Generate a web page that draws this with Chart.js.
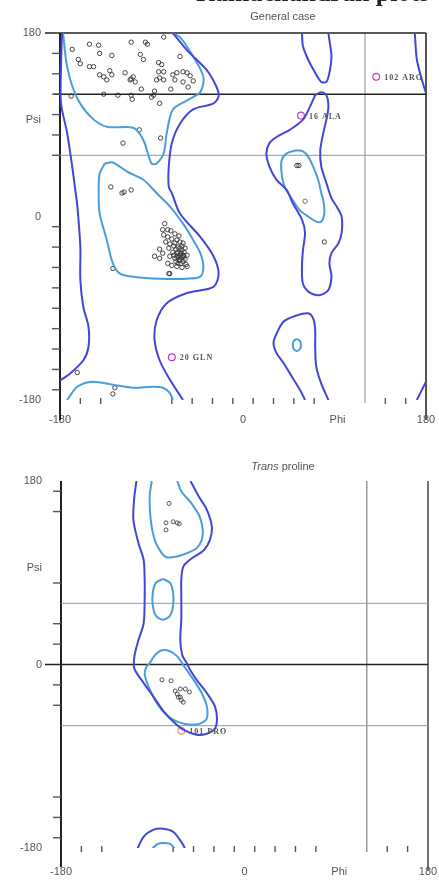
<!DOCTYPE html>
<html>
<head>
<meta charset="utf-8">
<script src="https://cdn.jsdelivr.net/npm/chart.js@4.4.1/dist/chart.umd.min.js"></script>
<style>
  body { margin: 0; background: #fff; }
  canvas { display: block; }
</style>
</head>
<body>
<canvas id="general" width="439" height="440"></canvas>
<canvas id="proline" width="439" height="440"></canvas>
<script>
// ------------------------------------- axes
const axisTicks = [-180, 0, 180];
const phiLabelAt = 93;   // where the "Phi" word sits on the x axis
const psiLabelAt = 95;   // where the "Psi" word sits on the y axis

const generalPhiMarks = [-160, -140, -70, -50, -30, -10, 10, 30, 50, 70, 140, 160];
const generalPsiMarks = [160, 140, 120, 100, 80, 60, -10, -30, -50, -70, -90, -110, -130, -150, -170];
const prolinePhiMarks = [-160, -140, -70, -50, -30, -10, 10, 30, 50, 70, 140, 160];
const prolinePsiMarks = [170, 150, 80, 40, 20, -20, -40, -130, -150, -170];

// ------------------------------------- General case: contours [phi, psi]
const generalOuterBeta = [[-69,180],[-55,163],[-36,144],[-26,127],[-24,118],[-29,111],[-49,105],[-62,91],[-70,72],[-73,49],[-73,29],[-70,23],[-62,3],[-42,-20],[-29,-39],[-24,-56],[-29,-69],[-55,-75],[-75,-85],[-85,-102],[-87,-121],[-82,-141],[-72,-160],[-59,-180]];
const generalOuterLeft = [[-178,180],[-179,147],[-179,111],[-173,82],[-168,49],[-165,26],[-163,11],[-160,-30],[-160,-62],[-157,-89],[-152,-108],[-152,-128],[-157,-141],[-170,-154],[-180,-161]];
const generalWrapTop = [[169,180],[171,154],[176,134],[180,121]];
const generalWrapBottom = [[171,-180],[179,-164],[181,-160]];
const generalRightTop = [[58,180],[59,167],[64,154],[71,141],[77,132],[82,132],[85,141],[87,157],[85,173],[84,180]];
const generalRightMain = [[71,119],[77,122],[82,119],[84,108],[82,95],[79,82],[76,65],[77,49],[82,33],[87,18],[92,10],[97,0],[97,-16],[94,-26],[87,-36],[85,-46],[87,-59],[84,-72],[76,-77],[66,-75],[59,-66],[58,-49],[59,-33],[61,-16],[58,-3],[49,13],[43,26],[33,36],[26,49],[23,62],[26,72],[33,78],[46,85],[59,95],[66,108],[71,119]];
const generalRightBottom = [[61,-180],[56,-170],[48,-157],[40,-144],[33,-134],[30,-124],[33,-115],[40,-103],[53,-97],[64,-95],[69,-100],[71,-111],[71,-128],[72,-147],[77,-164],[84,-180]];

const generalCoreBeta = [[-177,180],[-173,147],[-164,118],[-150,98],[-134,88],[-108,87],[-98,75],[-90,52],[-85,52],[-78,62],[-75,82],[-69,105],[-55,114],[-42,122],[-39,137],[-49,157],[-62,176],[-70,180]];
const generalCoreBetaWrap = [[-173,-180],[-163,-167],[-148,-162],[-128,-165],[-108,-168],[-89,-167],[-79,-168],[-72,-173],[-69,-180]];
const generalCoreAlpha = [[-136,52],[-128,53],[-114,44],[-98,36],[-85,23],[-72,10],[-59,-7],[-49,-23],[-42,-36],[-39,-49],[-42,-59],[-55,-61],[-82,-61],[-108,-59],[-121,-56],[-128,-46],[-134,-23],[-141,3],[-142,23],[-141,42],[-136,52]];
const generalCoreRight = [[53,65],[59,64],[64,59],[69,49],[74,36],[77,23],[79,16],[80,3],[77,-5],[72,-5],[64,0],[56,6],[49,16],[41,29],[38,42],[38,55],[43,62],[53,65]];
const generalCoreSmall = [[53,-120],[56,-122],[57,-126],[56,-130],[53,-132],[50,-130],[49,-126],[50,-122],[53,-120]];

// ------------------------------------- General case: residues
const generalResidues = [
  [-168,164],[-151,169],[-142,168],[-141,160],[-129,158],[-110,171],[-96,171],[-94,169],[-78,176],[-101,159],
  [-98,154],[-62,157],[-162,154],[-160,150],[-151,147],[-147,147],[-83,151],[-80,149],[-78,142],[-141,139],
  [-137,137],[-131,143],[-129,139],[-134,134],[-116,141],[-108,137],[-111,134],[-106,132],[-85,134],[-82,136],
  [-78,134],[-69,139],[-65,141],[-59,142],[-55,141],[-52,138],[-67,134],[-59,132],[-49,133],[-54,127],
  [-71,125],[-87,123],[-100,125],[-169,118],[-137,120],[-123,119],[-110,119],[-109,115],[-90,117],[-88,119],
  [-82,111],[-102,85],[-118,72],[-81,77],[-83,142],[-110,135],
  [-130,29],[-119,23],[-117,24],[-110,26],[-128,-51],[-73,-56],
  [-77,-7],[-79,-13],[-74,-13],[-71,-14],[-67,-17],[-63,-19],[-78,-18],[-74,-20],[-70,-22],[-65,-23],
  [-62,-25],[-59,-26],[-76,-25],[-72,-27],[-68,-29],[-64,-30],[-60,-33],[-57,-31],[-73,-31],[-69,-35],
  [-65,-36],[-62,-38],[-58,-39],[-55,-38],[-72,-39],[-67,-41],[-63,-43],[-59,-44],[-56,-47],[-74,-46],
  [-70,-48],[-65,-49],[-60,-50],[-55,-49],[-72,-56],[-82,-32],[-87,-39],[-82,-41],[-79,-36],[-66,-32],
  [-64,-35],[-61,-36],[-60,-40],[-63,-40],[-66,-44],[-61,-46],[-68,-38],[-57,-42],[-64,-46],[-62,-31],
  [-67,-26],[-60,-29],[-58,-35],[-62,-42],[-59,-38],[-65,-39],
  [53,50],[55,50],[80,-25],
  [-163,-153],[-126,-168],[-128,-174]
];
const generalGlycine = [[61,15]];
const generalFlagged = [[131,137],[57,99],[-70,-138]];
const generalFlaggedNames = ['102 ARG', '16 ALA', '20 GLN'];

// ------------------------------------- Trans proline: contours
const prolineOuter = [[-106,180],[-108,165],[-109,142],[-104,119],[-99,103],[-98,86],[-98,60],[-99,40],[-104,24],[-108,8],[-108,-4],[-99,-18],[-89,-32],[-80,-45],[-70,-56],[-60,-64],[-47,-69],[-37,-68],[-29,-63],[-27,-53],[-29,-41],[-37,-28],[-47,-15],[-53,-6],[-57,2],[-61,9],[-63,24],[-62,44],[-62,67],[-62,83],[-60,96],[-52,104],[-40,112],[-34,122],[-32,135],[-37,152],[-45,165],[-53,180]];
const prolineCoreTop = [[-91,180],[-93,165],[-92,142],[-88,122],[-81,109],[-76,105],[-66,106],[-57,109],[-47,114],[-42,122],[-41,132],[-44,145],[-52,158],[-62,170],[-66,180]];
const prolineCoreEllipse = [[-80,84],[-73,80],[-70,70],[-70,58],[-73,48],[-80,44],[-87,48],[-90,58],[-90,70],[-87,80],[-80,84]];
const prolineCoreMid = [[-93,1],[-96,-2],[-98,-9],[-94,-22],[-86,-38],[-76,-50],[-66,-56],[-53,-59],[-44,-58],[-37,-53],[-37,-41],[-42,-28],[-50,-15],[-57,-5],[-61,1],[-66,8],[-73,13],[-81,14],[-88,9],[-93,1]];
const prolineArcOuter = [[-106,-183],[-99,-169],[-89,-162],[-80,-161],[-70,-164],[-62,-174],[-57,-183]];
const prolineArcInner = [[-91,-181],[-85,-176],[-80,-175],[-73,-176],[-68,-181]];

const prolineResidues = [[-74,158],[-77,139],[-77,132],[-70,140],[-66,139],[-64,138],[-81,-15],[-72,-16],[-68,-26],[-63,-24],[-58,-24],[-54,-27],[-66,-29],[-65,-32],[-63,-32],[-60,-37],[-62,-35]];
const prolineFlagged = [[-62,-65]];
const prolineFlaggedNames = ['101 PRO'];

// ------------------------------------- colours
const outerBlue = '#4446d6';
const coreBlue = '#4a9ddb';

Chart.defaults.font.family = '"Liberation Sans", Arial, sans-serif';

function contour(points, color) {
  return { data: points, showLine: true, borderColor: color, borderWidth: 2, pointRadius: 0, tension: 0.3, fill: false };
}

function dots(points, color, r, w) {
  return { data: points, showLine: false, pointRadius: r, pointBorderColor: color, pointBorderWidth: w, pointBackgroundColor: 'rgba(0,0,0,0)' };
}

// lines, tick marks, titles and residue names drawn on the library scales
const framePlugin = {
  id: 'frame',
  beforeDatasetsDraw(chart, args, o) {
    const { ctx, chartArea: a, scales: { x, y } } = chart;
    ctx.save();
    o.vLines.forEach(l => {
      const px = x.getPixelForValue(l.at);
      ctx.strokeStyle = l.color; ctx.lineWidth = l.width;
      ctx.beginPath(); ctx.moveTo(px, a.top); ctx.lineTo(px, a.bottom + l.below); ctx.stroke();
    });
    o.hLines.forEach(l => {
      const py = y.getPixelForValue(l.at);
      ctx.strokeStyle = l.color; ctx.lineWidth = l.width;
      ctx.beginPath(); ctx.moveTo(a.left - l.left, py); ctx.lineTo(a.right, py); ctx.stroke();
    });
    ctx.strokeStyle = '#555'; ctx.lineWidth = 1.4;
    o.psiMarks.forEach(v => {
      const py = y.getPixelForValue(v);
      ctx.beginPath(); ctx.moveTo(a.left - 8, py); ctx.lineTo(a.left, py); ctx.stroke();
    });
    o.phiMarks.forEach(v => {
      const px = x.getPixelForValue(v);
      ctx.beginPath(); ctx.moveTo(px, a.bottom - 2); ctx.lineTo(px, a.bottom + 4); ctx.stroke();
    });
    // title
    ctx.fillStyle = '#555';
    ctx.textBaseline = 'middle';
    const parts = o.title;
    let total = 0;
    parts.forEach(p => { ctx.font = (p.italic ? 'italic ' : '') + '11px "Liberation Sans"'; total += ctx.measureText(p.text).width; });
    let tx = o.titleX - total / 2;
    parts.forEach(p => {
      ctx.font = (p.italic ? 'italic ' : '') + '11px "Liberation Sans"';
      ctx.fillText(p.text, tx, o.titleY);
      tx += ctx.measureText(p.text).width;
    });
    // page heading, cut off by the top edge
    if (o.heading) {
      ctx.fillStyle = '#222';
      ctx.font = 'bold 26px "Liberation Serif"';
      ctx.textBaseline = 'alphabetic';
      ctx.fillText(o.heading, 196, 1);
    }
    ctx.restore();
  },
  afterDatasetsDraw(chart, args, o) {
    const { ctx, scales: { x, y } } = chart;
    ctx.save();
    ctx.fillStyle = '#555';
    ctx.font = 'bold 8px "Liberation Serif"';
    ctx.textBaseline = 'middle';
    if ('letterSpacing' in ctx) ctx.letterSpacing = '1px';
    o.flagged.forEach((p, i) => {
      ctx.fillText(o.names[i], x.getPixelForValue(p[0]) + 8, y.getPixelForValue(p[1]) + 1);
    });
    ctx.restore();
  }
};

function ramachandran(canvasId, datasets, frame, box) {
  new Chart(document.getElementById(canvasId), {
    type: 'scatter',
    data: { datasets: datasets },
    options: {
      responsive: false,
      animation: false,
      events: [],
      devicePixelRatio: 1,
      layout: { padding: { top: box.top, right: box.right, left: 0, bottom: 0 } },
      plugins: { legend: { display: false }, tooltip: { enabled: false }, frame: frame },
      scales: {
        x: {
          type: 'linear', min: -180, max: 180,
          afterBuildTicks: s => { s.ticks = axisTicks.concat([phiLabelAt]).map(v => ({ value: v })); },
          afterFit: s => { s.height = box.xHeight; },
          grid: { display: false, drawTicks: false },
          border: { display: false },
          ticks: { autoSkip: false, maxRotation: 0, padding: box.xPad, color: '#555', font: { size: 11 },
                   callback: v => v === phiLabelAt ? 'Phi' : v }
        },
        y: {
          type: 'linear', min: -180, max: 180,
          afterBuildTicks: s => { s.ticks = axisTicks.concat([psiLabelAt]).map(v => ({ value: v })); },
          afterFit: s => { s.width = box.left; },
          grid: { display: false, drawTicks: false },
          border: { display: false },
          ticks: { autoSkip: false, padding: 19, color: '#555', font: { size: 11 },
                   callback: v => v === psiLabelAt ? 'Psi' : v }
        }
      }
    },
    plugins: [framePlugin]
  });
}

// -------------------------------General case
ramachandran('general', [
  contour(generalOuterBeta, outerBlue),
  contour(generalOuterLeft, outerBlue),
  contour(generalWrapTop, outerBlue),
  contour(generalWrapBottom, outerBlue),
  contour(generalRightTop, outerBlue),
  contour(generalRightMain, outerBlue),
  contour(generalRightBottom, outerBlue),
  contour(generalCoreBeta, coreBlue),
  contour(generalCoreBetaWrap, coreBlue),
  contour(generalCoreAlpha, coreBlue),
  contour(generalCoreRight, coreBlue),
  contour(generalCoreSmall, coreBlue),
  dots(generalResidues, '#333', 2.2, 0.9),
  dots(generalGlycine, '#8a6d3b', 2.2, 1),
  dots(generalFlagged, '#c03cc0', 3.4, 1.2)
], {
  title: [{ text: 'General case' }], titleX: 283, titleY: 17,
  heading: 'Ramachandran plots',
  vLines: [{ at: -180, color: '#222', width: 2, below: 20 }, { at: 180, color: '#555', width: 2, below: 20 }, { at: 120, color: '#888', width: 1, below: 3 }],
  hLines: [{ at: 180, color: '#222', width: 1.5, left: 15 }, { at: 120, color: '#222', width: 1.5, left: 6 }, { at: 60, color: '#999', width: 1, left: 5 }],
  psiMarks: generalPsiMarks, phiMarks: generalPhiMarks,
  flagged: generalFlagged, names: generalFlaggedNames
}, { top: 33, right: 13, left: 60, xHeight: 40, xPad: 13 });

// -------------------------------Trans proline
ramachandran('proline', [
  contour(prolineOuter, outerBlue),
  contour(prolineArcOuter, outerBlue),
  contour(prolineCoreTop, coreBlue),
  contour(prolineCoreEllipse, coreBlue),
  contour(prolineCoreMid, coreBlue),
  contour(prolineArcInner, coreBlue),
  dots(prolineResidues, '#444', 2, 0.9),
  dots(prolineFlagged, '#e39a5c', 3.4, 1.2)
], {
  title: [{ text: 'Trans', italic: true }, { text: ' proline' }], titleX: 283, titleY: 27,
  vLines: [{ at: -180, color: '#222', width: 2, below: 19 }, { at: 180, color: '#444', width: 1.5, below: 22 }, { at: 120, color: '#666', width: 1, below: 4 }],
  hLines: [{ at: 0, color: '#222', width: 1.5, left: 16 }, { at: 60, color: '#999', width: 1, left: 0 }, { at: -60, color: '#999', width: 1, left: 0 }],
  psiMarks: prolinePsiMarks, phiMarks: prolinePhiMarks,
  flagged: prolineFlagged, names: prolineFlaggedNames
}, { top: 41, right: 11, left: 61, xHeight: 32, xPad: 17 });
</script>
</body>
</html>
